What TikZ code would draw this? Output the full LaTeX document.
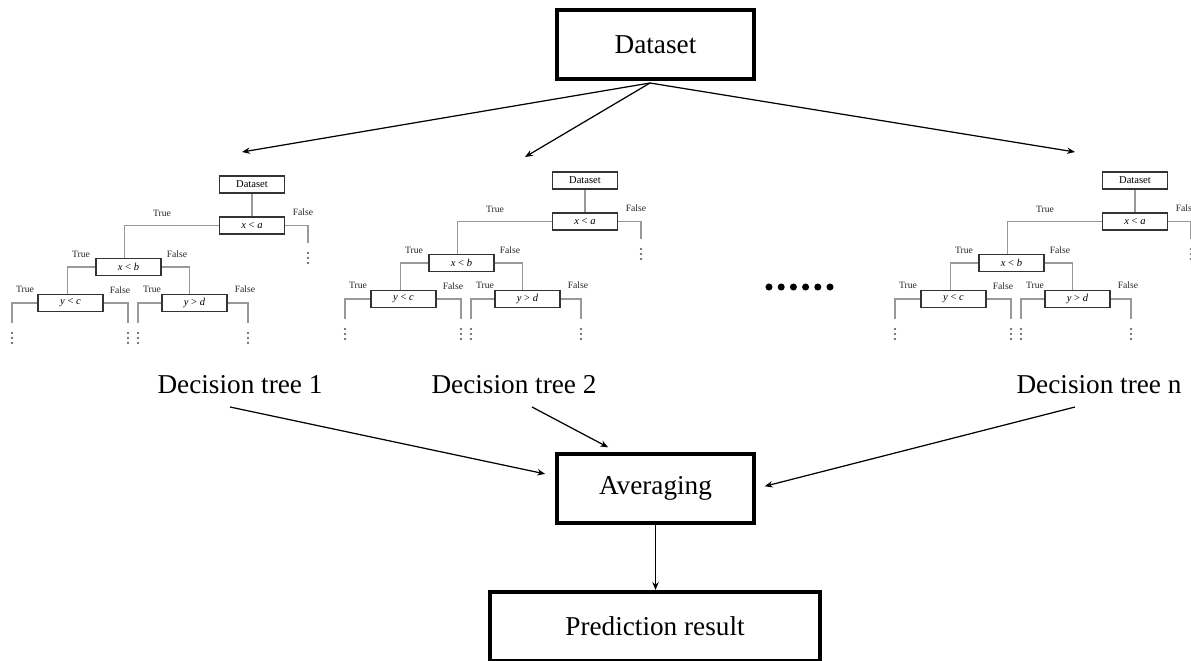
\documentclass[tikz,border=0pt]{standalone}
\usepackage{fontspec}
\setmainfont{Liberation Serif}
\usetikzlibrary{arrows.meta}
\tikzset{
	bigbox/.style={draw,line width=2.3pt,minimum width=3.94cm,minimum height=1.38cm,font=\fontsize{15.5}{18}\selectfont},
	tname/.style={font=\fontsize{15.5}{18}\selectfont},
	tbox/.style={draw=black!80,line width=1pt,minimum width=1.3cm,minimum height=0.34cm,inner sep=0pt,font=\fontsize{6}{7}\selectfont},
	tlab/.style={font=\fontsize{5.5}{6.5}\selectfont,text=black!85,inner sep=0pt},
	tline/.style={draw=black!40,line width=0.6pt},
	arr/.style={-{Stealth[length=4.5pt,width=3.6pt]},line width=0.7pt},
}
\begin{document}
\begin{tikzpicture}[x=0.02cm,y=-0.02cm]
	\useasboundingbox (0,0) rectangle (1191,660);
	\clip (0,0) rectangle (1191,660);
	\node[bigbox] (data) at (655.5,44.5) {Dataset};
	\node[bigbox] (avg) at (655.5,488.5) {Averaging};
	\node[bigbox,minimum width=6.6cm] (pred) at (655,626.5) {Prediction result};
	\coordinate (fork) at (650,83);
	\foreach \i/\x/\y in {1/242/152,2/525/157,n/1075/152}{
		\coordinate (top\i) at (\x,\y);
		\draw[arr] (fork) -- (top\i);
	}
	\foreach \i/\dx/\dy in {1/0/0,2/333/-4,n/883/-4}{
		\begin{scope}[shift={(\dx,\dy)}]
			\node[tbox] (ds\i) at (252,184.5) {Dataset};
			\node[tbox] (xa\i) at (252,225.5) {\textit{x} < \textit{a}};
			\node[tbox] (xb\i) at (128.5,267) {\textit{x} < \textit{b}};
			\node[tbox] (yc\i) at (70.5,303) {\textit{y} < \textit{c}};
			\node[tbox] (yd\i) at (194.5,303) {\textit{y} > \textit{d}};
			\draw[tline] (ds\i) -- (xa\i);
			\draw[tline] (xa\i.west) -| ([xshift=-2.5pt]xb\i.north);
			\draw[tline] (xb\i.west) -| ([xshift=-1.5pt]yc\i.north);
			\draw[tline] (xb\i.east) -| ([xshift=-3pt]yd\i.north);
			\foreach \s/\an/\x/\y/\f in {xa/east/308/243/ra,yc/west/12/323/lc,yc/east/128/323/rc,yd/west/138/323/ld,yd/east/248/323/rd}{
				\coordinate (\f\i) at (\x,\y);
				\draw[tline] (\s\i.\an) -| (\f\i);
				\foreach \k in {-1,0,1}{
					\fill[black!70] (\x,\y+15+5*\k) circle (0.65pt);
				}
			}
			\foreach \n/\x/\y/\t in {ta/162/213/True,fa/303/212/False,tb/81/254/True,fb/177/254/False,tc/25/289/True,fc/120/290/False,td/152/289/True,fd/245/289/False}{
				\node[tlab] (\n\i) at (\x,\y) {\t};
			}
		\end{scope}
	}
	\foreach \k in {0,...,5}{
		\fill (769+12.2*\k,287) circle (2pt);
	}
	\node[tname] (lab1) at (240,385) {Decision tree 1};
	\node[tname] (lab2) at (514,385) {Decision tree 2};
	\node[tname] (labn) at (1099,385) {Decision tree n};
	\draw[arr,shorten >=0.2cm] ([shift={(-10,22)}]lab1.center) -- ([yshift=0.25cm]avg.west);
	\draw[arr,shorten >=0.2cm] ([shift={(18,22)}]lab2.center) -- ([xshift=1.24cm]avg.north west);
	\draw[arr,shorten >=0.18cm] ([shift={(-24,22)}]labn.center) -- (avg.east);
	\draw[arr] (avg.south) -- (avg.south |- pred.north);
\end{tikzpicture}
\end{document}
